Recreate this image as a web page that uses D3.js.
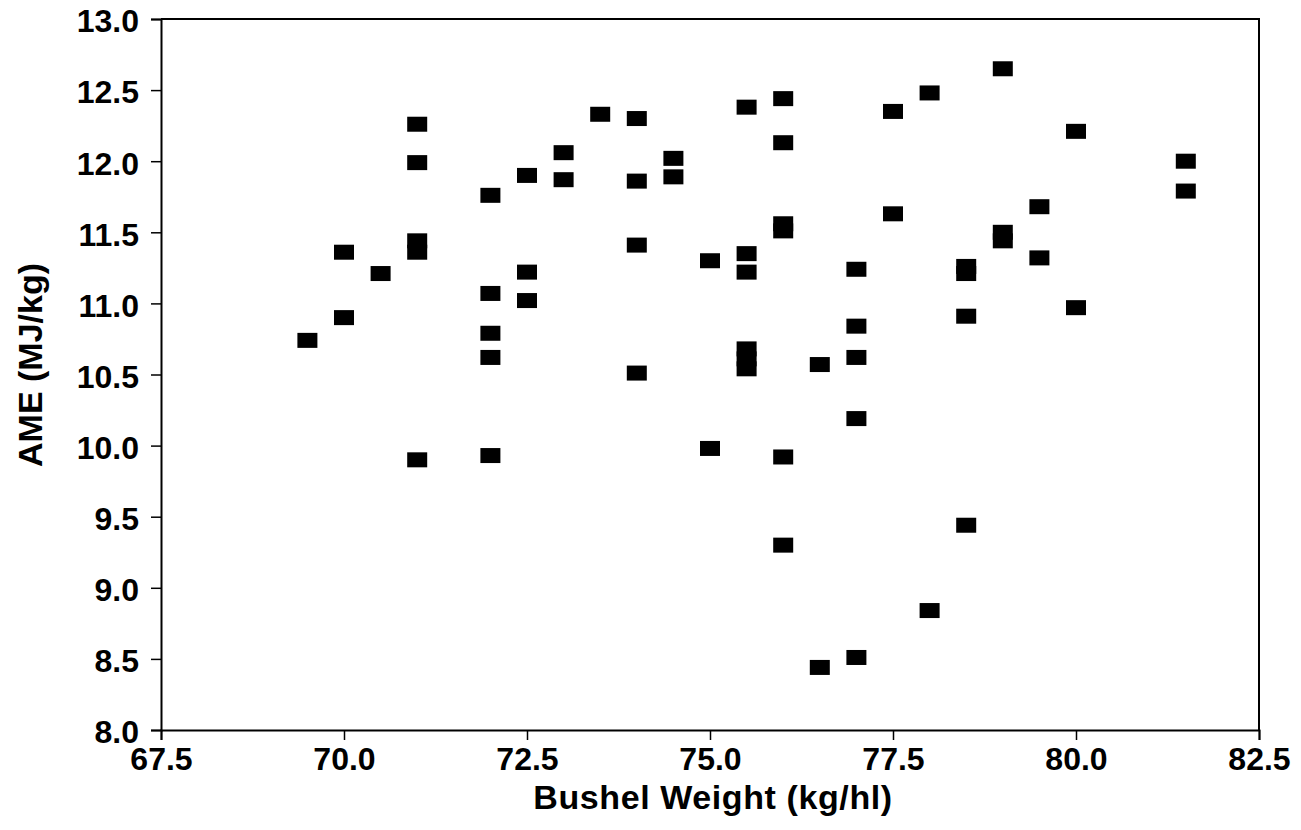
<!DOCTYPE html>
<html>
<head>
<meta charset="utf-8">
<script src="https://cdn.jsdelivr.net/npm/d3@7"></script>
<style>
  body { margin: 0; background: #fff; }
  text { font-family: "Liberation Sans", Arial, sans-serif; font-weight: bold; fill: #000; }
</style>
</head>
<body>
<div id="chart"></div>
<script>

// Data

var bushelWeight = [69.5, 70.0, 70.0, 70.5, 71.0, 71.0, 71.0, 71.0, 71.0,
  72.0, 72.0, 72.0, 72.0, 72.0, 72.5, 72.5, 72.5, 73.0, 73.0, 73.5,
  74.0, 74.0, 74.0, 74.0, 74.5, 74.5, 75.0, 75.0,
  75.5, 75.5, 75.5, 75.5, 75.5, 75.5,
  76.0, 76.0, 76.0, 76.0, 76.0, 76.0, 76.5, 76.5,
  77.0, 77.0, 77.0, 77.0, 77.0, 77.5, 77.5, 78.0, 78.0,
  78.5, 78.5, 78.5, 78.5, 79.0, 79.0, 79.0, 79.5, 79.5,
  80.0, 80.0, 81.5, 81.5];

var ame = [10.74, 11.36, 10.90, 11.21, 12.26, 11.99, 11.44, 11.36, 9.90,
  11.76, 11.07, 10.79, 10.62, 9.93, 11.90, 11.22, 11.02, 12.06, 11.87, 12.33,
  12.30, 11.86, 11.41, 10.51, 12.02, 11.89, 11.30, 9.98,
  12.38, 11.35, 11.22, 10.68, 10.61, 10.54,
  12.44, 12.13, 11.56, 11.51, 9.92, 9.30, 10.57, 8.44,
  11.24, 10.84, 10.62, 10.19, 8.51, 12.35, 11.63, 12.48, 8.84,
  11.26, 11.21, 10.91, 9.44, 12.65, 11.50, 11.44, 11.68, 11.32,
  12.21, 10.97, 12.00, 11.79];

var xTicks = [67.5, 70.0, 72.5, 75.0, 77.5, 80.0, 82.5];
var yTicks = [8.0, 8.5, 9.0, 9.5, 10.0, 10.5, 11.0, 11.5, 12.0, 12.5, 13.0];

// Layout

var width = 1301;
var height = 830;
var margin = {top: 19, right: 42, bottom: 100, left: 161};

var svg = d3.select("#chart").append("svg")
    .attr("width", width)
    .attr("height", height);

var x = d3.scaleLinear()
    .domain([67.5, 82.5])
    .range([margin.left, width - margin.right]);

var y = d3.scaleLinear()
    .domain([8, 13])
    .range([height - margin.bottom, margin.top]);

// Frame (top and right edges)

svg.append("path")
    .attr("d", "M" + x(67.5) + "," + y(13) + "H" + x(82.5) + "V" + y(8))
    .attr("fill", "none")
    .attr("stroke", "#000")
    .attr("stroke-width", 2);

// Axes

var xAxis = svg.append("g")
    .attr("transform", "translate(0," + y(8) + ")")
    .call(d3.axisBottom(x).tickValues(xTicks).tickFormat(d3.format(".1f"))
      .tickSizeOuter(0).tickSize(10).tickPadding(7));

var yAxis = svg.append("g")
    .attr("transform", "translate(" + x(67.5) + ",0)")
    .call(d3.axisLeft(y).tickValues(yTicks).tickFormat(d3.format(".1f"))
      .tickSizeOuter(0).tickSize(10).tickPadding(12));

[xAxis, yAxis].forEach(function(g) {
  g.select(".domain").attr("stroke-width", 2);
  g.selectAll(".tick line").attr("stroke-width", 1.5);
  g.selectAll(".tick text")
    .style("font-size", "32px")
    .style("font-weight", "bold")
    .attr("fill", "#000");
});
yAxis.selectAll(".tick text").attr("dy", "0.4em");

// Axis titles

svg.append("text")
    .attr("x", (x(67.5) + x(82.5)) / 2 + 3)
    .attr("y", 809)
    .attr("text-anchor", "middle")
    .style("font-size", "34px")
    .style("letter-spacing", "0.6px")
    .text("Bushel Weight (kg/hl)");

svg.append("text")
    .attr("transform", "translate(42," + 365 + ") rotate(-90)")
    .attr("text-anchor", "middle")
    .style("font-size", "34px")
    .text("AME (MJ/kg)");

// Points

var points = d3.zip(bushelWeight, ame);

svg.append("g")
  .selectAll("rect")
  .data(points)
  .enter().append("rect")
    .attr("x", function(d) { return x(d[0]) - 10; })
    .attr("y", function(d) { return y(d[1]) - 7.5; })
    .attr("width", 20)
    .attr("height", 15)
    .attr("fill", "#000");

</script>
</body>
</html>
